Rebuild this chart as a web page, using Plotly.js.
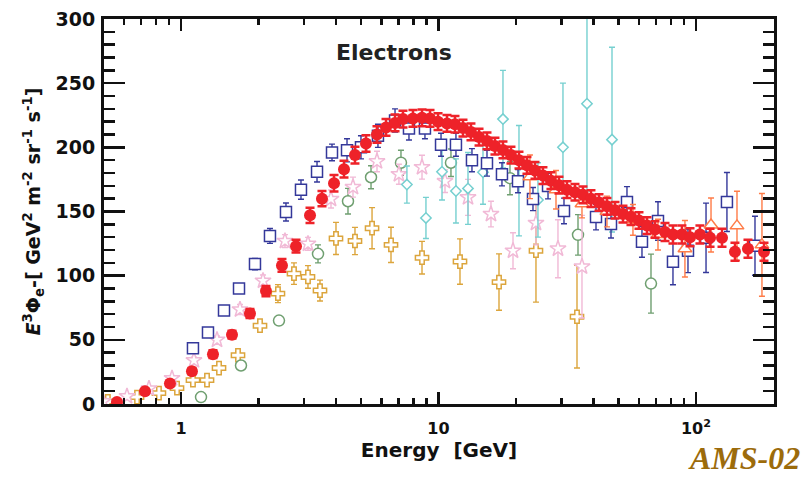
<!DOCTYPE html>
<html>
<head>
<meta charset="utf-8">
<script src="https://cdn.plot.ly/plotly-3.0.1.min.js"></script>
<style>html,body{margin:0;padding:0;background:#fff;}#chart{width:811px;height:478px;}</style>
</head>
<body>
<div id="chart"></div>
<script>
// AMS-02 electrons (red filled circles)
const redE = [0.564,0.725,0.906,1.103,1.331,1.578,1.853,2.138,2.467,2.797,3.17,3.528,3.929,4.296,4.739,5.23,5.77,6.255,6.78,7.28,7.96,8.63,9.27,9.96,10.79,11.59,12.45,13.37,14.37,15.43,16.57,17.80,19.12,20.54,22.06,23.70,25.45,27.34,29.37,31.55,33.89,36.40,39.10,42.01,45.12,48.47,52.06,55.92,60.07,64.53,69.31,75.8,81.4,88.2,94.8,103.6,113.4,126.2,141.7,159.2,183.7];
const redY = [1.5,10,16,25.6,38.8,54,70.5,88,108,123,147,160,172,183,194,203,210,215.5,219,222,222.5,223,222.5,220,218.6,218,215,212,208,205,201,198,194,190,186,182,178,174,170.5,167,165,163,160,157,154,151,148,146,143,139,136,134,132,132,130,132,129.5,129.5,118.6,121,118.6];
const redErr = [1,1.5,2,2.5,3,3,3.5,4,5,5,6,6,6.5,6.5,6.5,6.5,6.5,6.5,6.5,6.5,6.5,6.5,6.5,6.5,6.5,6.5,6.5,6.5,6.5,6.5,6.5,6.5,6.5,6.5,6.5,6.5,6.5,6.5,6.5,6.5,6.5,6.5,6.5,6.5,6.5,6.5,6.5,6.5,6.5,6.5,6.5,7,7,7,7,7,7,7,7,7,7];

// blue open squares
const blueE = [1.113,1.273,1.469,1.680,1.938,2.216,2.557,2.924,3.375,3.859,4.413,5.0,5.82,6.78,7.68,8.86,10.23,11.69,13.49,15.43,17.64,20.36,23.28,26.63,30.72,40.9,46.77,53.95,61.7,71.2,81.4,93.1,109.4,131.9,169.5];
const blueY = [43.4,55.8,72.9,90,109,131,149.6,167,181,196,197.7,200,209,221,214.7,214.7,202,202,190,187.6,179,173.6,159.7,169.8,150.4,145.7,140.3,157.4,126.4,142.6,110.9,119.4,129.5,157.4,123.3];
const blueErr = [1.5,1.5,2,2.5,4.4,5.8,7,7.5,8,6.5,9,9,9,9,9,8,9,9,9,10,9,9,9,10,10,10,11,12,12,15,18,17,27,23,23];

// pink open stars
const pinkE = [0.498,0.617,0.751,0.923,1.123,1.380,1.695,2.082,2.534,3.113,3.824,4.656,5.77,7.02,8.63,10.60,13.02,15.99,19.47,23.91,29.11,36.08];
const pinkY = [2,6,12,20,34,50,73.6,96,127,124.8,159.7,169,189,179,184.5,173.6,161,148,119.4,141,121,107];
const pinkErr = [0.5,1,1.5,2,2.5,3,3.9,4.5,5,5,7,7.8,8,7.8,9.3,8.8,14,10,14,17,22.6,40];

// gold open crosses
const goldE = [0.520,0.675,0.821,0.965,1.113,1.262,1.405,1.665,2.027,2.380,2.747,3.113,3.466,3.999,4.739,5.52,6.54,8.63,12.12,17.18,23.91,34.51];
const goldY = [2,5.4,8.5,12.4,18.6,18.6,28,38,61,86,101.6,99,88.4,129,127,137,124,114,111,95,119.4,68];
const goldErr = [0.5,1,1,1.5,2,2,2.5,3,3,7,8.4,8.8,8.1,12.5,10.6,16,13.7,12.7,17.7,22,40,40];

// green open circles
const greenE = [1.196,1.710,2.402,3.405,4.452,5.47,7.15,11.18,18.95,34.82,66.88];
const greenY = [5.4,30,65,117,158,176.7,188,188,176,131.8,93.8];
const greenErr = [1,1.5,3,7,10,9,9.7,10.7,13,15.8,23];

// cyan open diamonds
const cyanE = [7.54,8.94,10.32,11.69,13.02,14.89,17.80,20.54,24.34,30.44,37.73,47.19];
const cyanY = [171,145,181,166,168,180.6,222,174,159,200,234,206];
const cyanErrPlus = [14.5,16,22,25,28,25,38,43,29,50,68,72];
const cyanErrMinus = [14.5,16,22,25,28,25,38,43,29,26,68,72];

// orange open triangles
const orangeE = [22.66,28.6,36.08,45.12,56.92,71.2,90.6,114.4,144.3,180.4];
const orangeY = [177,167,156,150,143.5,132,121,139.5,138.8,124];
const orangeErr = [17,15,11,12,12,12,22,21,27,40];

// axis ticks
const xMajor = [1,10,100];
const xMajorText = ['1','10','10<sup>2</sup>'];
const xMinor = [0.6,0.7,0.8,0.9,2,3,4,5,6,7,8,9,20,30,40,50,60,70,80,90];
const yMajor = [0,50,100,150,200,250,300];

function series(x, y, err, color, symbol, size, lw, thick, capw, fill, errMinus) {
  const eb = {type:'data', array: err, visible:true, color: color, thickness: thick, width: capw};
  if (errMinus) { eb.symmetric = false; eb.arrayminus = errMinus; }
  return {
    x: x, y: y, type:'scatter', mode:'markers',
    marker: {symbol: symbol, size: size, color: fill, line: {color: color, width: lw}},
    error_y: eb, hoverinfo:'skip', showlegend:false
  };
}

const traces = [
  series(goldE, goldY, goldErr, '#dca53c', 'cross', 11, 1.5, 1.4, 3, '#ffffff'),
  series(greenE, greenY, greenErr, '#6f9f70', 'circle', 11, 1.5, 1.4, 3, '#ffffff'),
  series(pinkE, pinkY, pinkErr, '#f1b9d6', 'star', 12, 1.5, 1.4, 3, '#ffffff'),
  series(cyanE, cyanY, cyanErrPlus, '#76d0d0', 'diamond', 8, 1.5, 1.4, 3, '#ffffff', cyanErrMinus),
  series(blueE, blueY, blueErr, '#34389a', 'square', 11, 1.5, 1.4, 3, '#ffffff'),
  series(orangeE, orangeY, orangeErr, '#ff7c48', 'triangle-up', 12, 1.5, 1.4, 3, '#ffffff'),
  series(redE, redY, redErr, '#ee2229', 'circle', 12, 0, 2.5, 4.5, '#ee2229')
];

const tickFontY = {family:'DejaVu Sans', size:19, color:'#111', weight:'bold'};
const tickFontX = {family:'DejaVu Sans', size:16, color:'#111', weight:'bold'};

const layout = {
  width: 811, height: 478,
  margin: {l:104, r:37, t:19, b:74},
  paper_bgcolor:'#fff', plot_bgcolor:'#fff',
  showlegend:false,
  xaxis: {
    type:'log', range:[-0.299, 2.303],
    showline:true, linewidth:3, linecolor:'#111', mirror:'allticks',
    ticks:'inside', ticklen:12, tickwidth:2.5, tickcolor:'#111',
    tickmode:'array', tickvals: xMajor, ticktext: xMajorText,
    tickfont: tickFontX, ticklabelstandoff: 8,
    showgrid:false, zeroline:false,
    minor: {tickmode:'array', tickvals: xMinor, ticks:'inside', ticklen:6, tickwidth:2.5, tickcolor:'#111', showgrid:false},
    title: {text:'Energy&nbsp; [GeV]', font:{family:'DejaVu Sans', size:20, color:'#111', weight:'bold'}, standoff: 4}
  },
  yaxis: {
    range:[0,300],
    showline:true, linewidth:3, linecolor:'#111', mirror:'allticks',
    ticks:'inside', ticklen:21, tickwidth:2.5, tickcolor:'#111',
    tickmode:'array', tickvals: yMajor,
    tickfont: tickFontY, ticklabelstandoff: 2,
    showgrid:false, zeroline:false,
    minor: {dtick:10, ticks:'inside', ticklen:11, tickwidth:2.5, tickcolor:'#111', showgrid:false},
    title: {text:'<i>E</i><sup>3</sup>Φ<sub>e</sub>-[ GeV<sup>2</sup> m<sup>-2</sup> sr<sup>-1</sup> s<sup>-1</sup>]', font:{family:'DejaVu Sans', size:19, color:'#111', weight:'bold'}, standoff: 10}
  },
  annotations: [
    {text:'Electrons', xref:'paper', yref:'paper', x:0.433, y:0.914, xanchor:'center', yanchor:'middle', showarrow:false,
     font:{family:'DejaVu Sans', size:22, color:'#222', weight:'bold'}},
    {text:'<b><i>AMS-02</i></b>', xref:'paper', yref:'paper', x:1.04, y:-0.19, xanchor:'right', yanchor:'bottom', showarrow:false, borderpad:0,
     font:{family:'Liberation Serif', size:32, color:'#9c6b0b'}}
  ]
};

Plotly.newPlot('chart', traces, layout, {displayModeBar:false, staticPlot:true});
</script>
</body>
</html>
